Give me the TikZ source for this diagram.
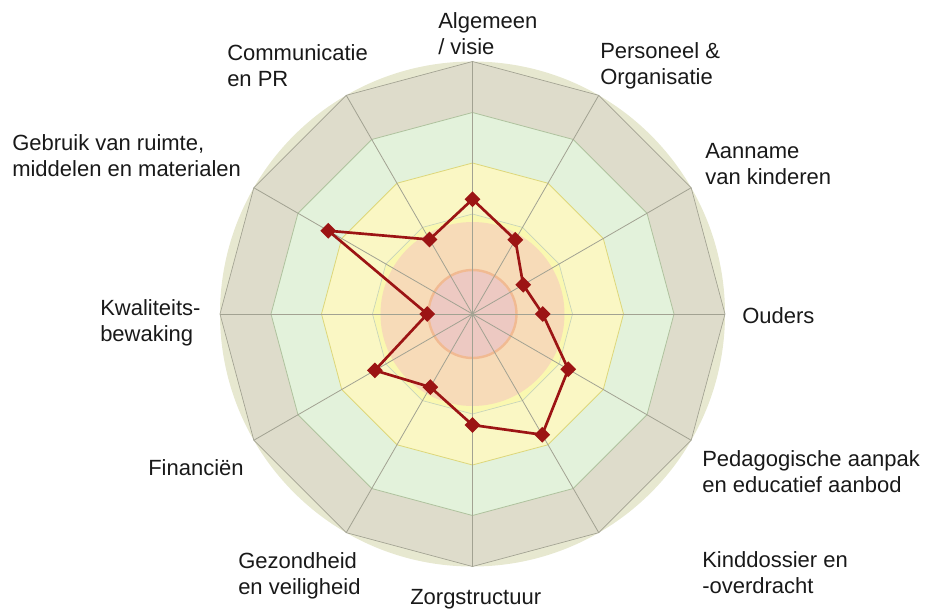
\documentclass[tikz,border=0pt]{standalone}
\usepackage{fontspec}
\setmainfont{Liberation Sans}
\usetikzlibrary{shapes.geometric}

\definecolor{rimcol}{HTML}{E7E8D0}
\definecolor{bandgrey}{HTML}{DEDCCB}
\definecolor{bandgreen}{HTML}{E3F2DB}
\definecolor{bandyellow}{HTML}{FAF7C4}
\definecolor{bandpeach}{HTML}{F7DBB8}
\definecolor{corepink}{HTML}{EDC9C2}
\definecolor{coreedge}{HTML}{F1BA92}
\definecolor{gridgrey}{HTML}{A2A292}
\definecolor{gridgreen}{HTML}{AFC29E}
\definecolor{gridyellow}{HTML}{DDD77A}
\definecolor{scorered}{HTML}{9C1414}

\tikzset{
  axislabel/.style={anchor=base west,align=left,inner sep=0pt,text=black!90,
    font=\fontsize{16.5}{19.5}\selectfont},
  scorept/.style={diamond,fill=scorered,inner sep=0pt,minimum width=12pt,minimum height=12pt},
  scoreline/.style={draw=scorered,line width=2pt,line join=round},
  spoke/.style={draw=gridgrey,line width=0.6pt}
}

\begin{document}
\begin{tikzpicture}[x=0.75pt,y=0.75pt]
\useasboundingbox (-472.5,-297) rectangle (455.5,314);

\fill[rimcol] (0,0) circle (252.5);
\draw[fill=bandgrey,draw=gridgrey,line width=0.5pt] (0:252.5) \foreach \a in {30,60,...,330}{ -- (\a:252.5)} -- cycle;
\draw[fill=bandgreen,draw=gridgreen,line width=0.6pt] (0:201.5) \foreach \a in {30,60,...,330}{ -- (\a:201.5)} -- cycle;
\draw[fill=bandyellow,draw=gridyellow,line width=0.6pt] (0:151) \foreach \a in {30,60,...,330}{ -- (\a:151)} -- cycle;
\draw[fill=bandyellow!90!yellow,draw=gridgreen!70,line width=0.5pt] (0:100) \foreach \a in {30,60,...,330}{ -- (\a:100)} -- cycle;
\fill[bandpeach] (0,0) circle (92);
\draw[fill=corepink,draw=coreedge,line width=1.8pt] (0,0) circle (44);
\foreach \a in {0,30,...,330} \draw[spoke] (0,0) -- (\a:252.5);

\coordinate (algemeen) at (90:114.7);
\coordinate (personeel) at (60:85.7);
\coordinate (aanname) at (30:58.5);
\coordinate (ouders) at (0:70.2);
\coordinate (pedagogiek) at (-30:110.6);
\coordinate (kinddossier) at (-60:139.4);
\coordinate (zorg) at (-90:111);
\coordinate (gezondheid) at (-120:84.4);
\coordinate (financien) at (-150:112.8);
\coordinate (kwaliteit) at (180:45.2);
\coordinate (gebruik) at (150:166.5);
\coordinate (communicatie) at (120:86);

\draw[scoreline] (algemeen) -- (personeel) -- (aanname) -- (ouders) -- (pedagogiek)
  -- (kinddossier) -- (zorg) -- (gezondheid) -- (financien) -- (kwaliteit)
  -- (gebruik) -- (communicatie) -- cycle;
\foreach \p in {algemeen,personeel,aanname,ouders,pedagogiek,kinddossier,zorg,gezondheid,financien,kwaliteit,gebruik,communicatie}
  \node[scorept] (m-\p) at (\p) {};

\node[axislabel] (l-algemeen) at (-34.5,259) {Algemeen\\/ visie};
\node[axislabel] (l-personeel) at (127.5,229) {Personeel \&\\Organisatie};
\node[axislabel] (l-aanname) at (232.5,130) {Aanname\\van kinderen};
\node[axislabel] (l-ouders) at (269.5,-9) {Ouders};
\node[axislabel] (l-pedagogiek) at (229.5,-178) {Pedagogische aanpak\\en educatief aanbod};
\node[axislabel] (l-kinddossier) at (229.5,-279) {Kinddossier en\\-overdracht};
\node[axislabel] (l-zorg) at (-62.5,-290) {Zorgstructuur};
\node[axislabel] (l-gezondheid) at (-234.5,-280) {Gezondheid\\en veiligheid};
\node[axislabel] (l-financien) at (-324.5,-161) {Financiën};
\node[axislabel] (l-kwaliteit) at (-372.5,-27) {Kwaliteits-\\bewaking};
\node[axislabel] (l-gebruik) at (-460.5,138) {Gebruik van ruimte,\\middelen en materialen};
\node[axislabel] (l-communicatie) at (-245.5,227) {Communicatie\\en PR};
\end{tikzpicture}
\end{document}
